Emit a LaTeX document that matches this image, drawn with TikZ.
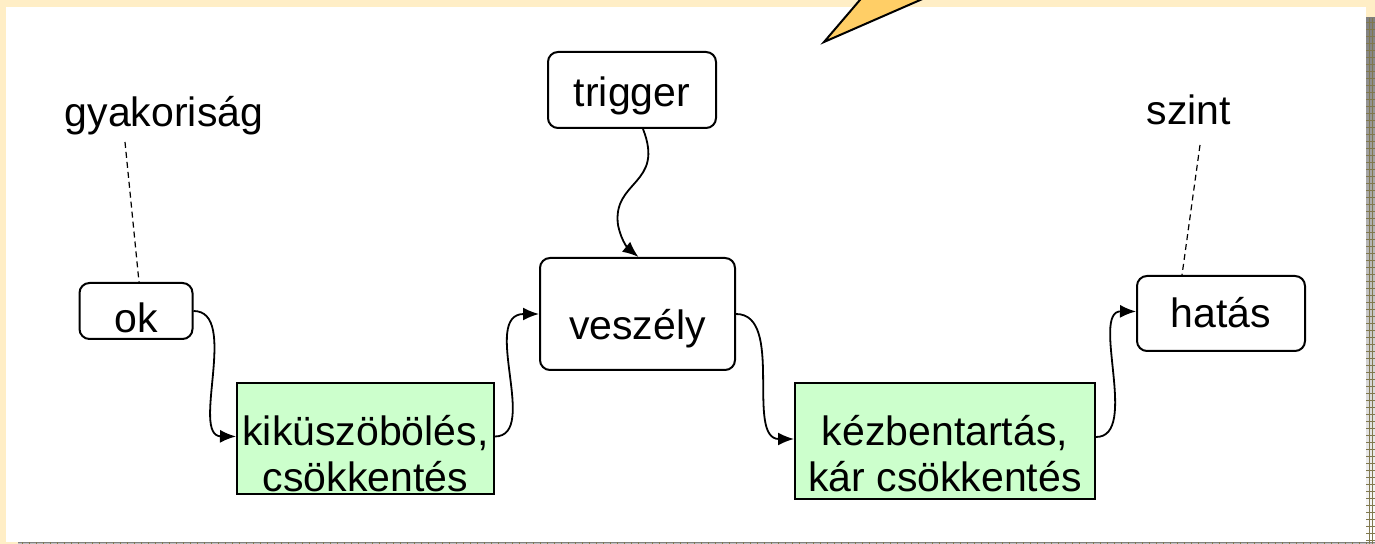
\documentclass[tikz,border=0pt]{standalone}
\usepackage{fontspec}
\setmainfont{Liberation Sans}
\usepackage{xcolor}
\usepackage{tikz}
\usetikzlibrary{arrows.meta}
\definecolor{paper}{RGB}{255,238,198}
\definecolor{callout}{RGB}{255,206,102}
\definecolor{mint}{RGB}{204,255,204}
\definecolor{shade}{RGB}{181,173,128}
\definecolor{shadeline}{RGB}{128,120,78}

\begin{document}
\begin{tikzpicture}[x=0.5pt, y=-0.5pt,
    every node/.style={font=\fontsize{20.5pt}{23pt}\selectfont, align=center, inner sep=0pt},
    rbox/.style={draw, line width=1pt, rounded corners=5pt},
    gbox/.style={draw, line width=1pt, fill=mint},
    conn/.style={line width=0.9pt, -{Latex[length=8pt, width=6.5pt]}},
    dline/.style={line width=0.6pt, dash pattern=on 3pt off 2pt}]
        \useasboundingbox (0, 0) rectangle (1375, 544);
        \fill[paper] (0, 0) rectangle (1375, 544);
        \fill[shade] (1366, 18) rectangle (1375, 544);
        \fill[shade] (18, 542) rectangle (1375, 544);
        \foreach \y in {22, 29, ..., 540}
            \draw[shadeline, line width=0.3pt] (1366, \y) -- (1375, \y);
        \foreach \x in {1369, 1372}
            \draw[shadeline, line width=0.3pt] (\x, 18) -- (\x, 544);
        \foreach \x in {22, 29, ..., 1366}
            \draw[shadeline, line width=0.3pt] (\x, 542) -- (\x, 544);
        \fill[white] (6, 7) rectangle (1366, 542);

        \begin{scope}
            \clip (0, 0) rectangle (1375, 544);
            \filldraw[fill = callout, line width = 1pt] (877, -20) -- (824, 42) -- (966, -20) -- cycle;
        \end{scope}

        \node[rbox, minimum width = 56.5pt, minimum height = 28pt, text height = 24pt, text depth = 2pt] (ok) at (136, 311) {ok};
        \node[gbox, minimum width = 128.5pt, minimum height = 55.5pt] (kik) at (365.5, 438.5) {\rule{0pt}{30.2pt}kiküszöbölés,\\csökkentés};
        \node[rbox, minimum width = 97.5pt, minimum height = 56pt, text height = 28pt, text depth = 2pt] (vesz) at (637.5, 314) {veszély};
        \node[rbox, minimum width = 84pt, minimum height = 38pt, text height = 20pt, text depth = 3pt] (trig) at (632, 90) {trigger};
        \node[gbox, minimum width = 150pt, minimum height = 58pt] (kez) at (945, 441) {\rule{0pt}{27.7pt}kézbentartás,\\kár csökkentés};
        \node[rbox, minimum width = 84pt, minimum height = 37.5pt, text height = 20pt, text depth = 5.5pt] (hat) at (1221, 313.5) {hatás};
        \node[anchor = base] (gyak) at (164, 127) {gyakoriság};
        \node[anchor = base] (szint) at (1189, 125) {szint};
        \coordinate (gyakend) at (125, 142);
        \coordinate (szintend) at (1200, 145);

        \draw[dline] (gyakend) -- ([xshift = 1.5pt]ok.north);
        \draw[dline] (szintend) -- ([xshift = -19.5pt]hat.north);

        \draw[conn] (ok.east) .. controls (240, 311) and (190, 436) .. ([yshift = 1pt]kik.west);
        \draw[conn] ([yshift = 1pt]kik.east) .. controls (540, 436) and (480, 314) .. (vesz.west);
        \draw[conn] (vesz.east) .. controls (785, 314) and (745, 439) .. ([yshift = 1pt]kez.west);
        \draw[conn] ([yshift = 2pt]kez.east) .. controls (1140, 437) and (1090, 311) .. ([yshift = 1pt]hat.west);
        \draw[conn] ([xshift = 5.5pt]trig.south) .. controls (665, 185) and (612, 180) .. (618, 225)
            .. controls (622, 244) and (630, 250) .. ([xshift = 0.5pt]vesz.north);
    \end{tikzpicture}
\end{document}
